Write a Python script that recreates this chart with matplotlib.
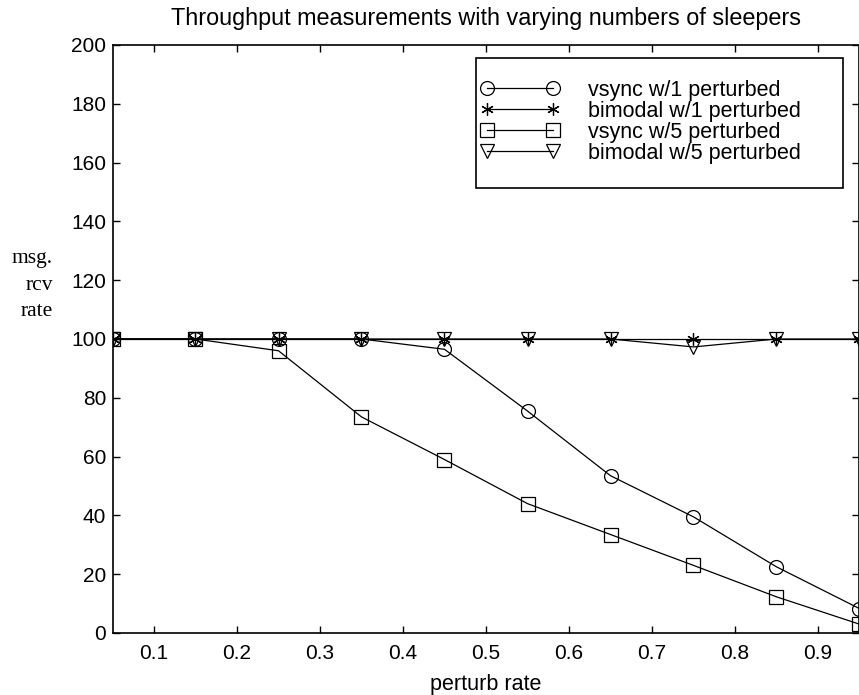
import numpy as np
import matplotlib
matplotlib.use("Agg")
import matplotlib.pyplot as plt
from matplotlib.patches import Rectangle

# 데이터
perturb_rate = [0.05, 0.15, 0.25, 0.35, 0.45, 0.55, 0.65, 0.75, 0.85, 0.95]
vsync_1 = [100, 100, 100, 100, 96.5, 75.5, 53.5, 39.5, 22.5, 8.3]
bimodal_1 = [100, 100, 100, 100, 100, 100, 100, 100, 100, 100]
vsync_5 = [100, 100, 96, 73.5, 59, 44, 33.5, 23, 12.3, 3]
bimodal_5 = [100, 100, 100, 100, 100, 100, 100, 97.3, 100, 100]

series_labels = ["vsync w/1 perturbed", "bimodal w/1 perturbed",
                 "vsync w/5 perturbed", "bimodal w/5 perturbed"]
x_ticks = [0.1, 0.2, 0.3, 0.4, 0.5, 0.6, 0.7, 0.8, 0.9]
y_ticks = [0, 20, 40, 60, 80, 100, 120, 140, 160, 180, 200]

plt.rcParams["font.family"] = ["Liberation Sans", "DejaVu Sans"]

W, H = 859, 695
fig = plt.figure(figsize=(W / 100, H / 100), dpi=100)
ax = fig.add_axes([112.5 / W, 62 / H, 747 / W, 588 / H])

style = dict(color="black", linewidth=0.9, markersize=10,
             markerfacecolor="none", markeredgewidth=0.9)
ax.plot(perturb_rate, vsync_1, marker="o", label=series_labels[0], **style)
ax.plot(perturb_rate, bimodal_1, marker=(6, 2, 0), label=series_labels[1],
        **{**style, "markersize": 9})
ax.plot(perturb_rate, vsync_5, marker="s", label=series_labels[2], **style)
ax.plot(perturb_rate, bimodal_5, marker="v", label=series_labels[3], **style)

ax.set_xlim(0.05, 0.95)
ax.set_ylim(0, 200)
ax.set_xticks(x_ticks)
ax.set_xticklabels([f"{t:g}" for t in x_ticks])
ax.set_yticks(y_ticks)
ax.tick_params(direction="in", top=True, right=True, length=5, width=1,
               labelsize=15)
ax.tick_params(axis="x", pad=8)
ax.tick_params(axis="y", pad=4.5)
for sp in ax.spines.values():
    sp.set_linewidth(1.2)

ax.set_title("Throughput measurements with varying numbers of sleepers",
             fontsize=16.8, pad=14.5)
ax.set_xlabel("perturb rate", fontsize=15.5, labelpad=8)

fig.text(53 / W, 1 - 285 / H, "msg.\nrcv\nrate", family="Liberation Serif",
         fontsize=15.5, ha="right", va="center", multialignment="right",
         linespacing=1.5)

# 범례: 테두리는 따로 그림
fs = 15.5
leg = ax.legend(loc="upper left", bbox_to_anchor=(480.8 / W, 1 - 80 / H),
                bbox_transform=fig.transFigure, numpoints=2, fontsize=fs,
                frameon=False, handlelength=3.65, borderpad=0,
                labelspacing=0.0, handletextpad=1.33, borderaxespad=0)
fig.add_artist(Rectangle((476 / W, 1 - 188 / H), 367 / W, 130 / H,
                         transform=fig.transFigure, fill=False,
                         edgecolor="black", linewidth=1.2))

fig.savefig("out.png", dpi=100)
